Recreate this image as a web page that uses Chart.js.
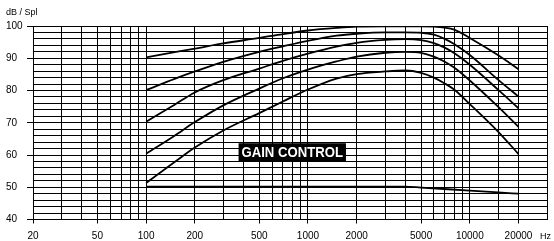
<!DOCTYPE html>
<html>
<head>
<meta charset="utf-8">
<script src="https://cdn.jsdelivr.net/npm/chart.js@4/dist/chart.umd.min.js"></script>
<style>
html,body{margin:0;padding:0;background:#fff;}
#wrap{width:554px;height:241px;}
</style>
</head>
<body>
<div id="wrap"><canvas id="c" width="554" height="241"></canvas></div>
<script>
// ---- data ----
const FREQS = [100,150,200,300,500,700,1000,1500,2000,3000,4000,5000,6000,7000,8000,10000,15000,20000];
const CURVE_1 = [90.3,91.9,93.0,94.6,96.3,97.5,98.6,99.4,99.8,99.9,99.9,99.9,99.8,99.5,98.9,96.3,90.9,86.6];
const CURVE_2 = [80.1,83.6,85.9,88.9,92.0,93.7,95.4,97.0,97.6,98.0,98.0,97.9,97.3,96.0,94.4,91.0,83.3,78.1];
const CURVE_3 = [70.3,75.6,79.4,83.2,86.8,89.2,91.4,93.6,94.8,95.7,95.9,95.6,94.7,93.3,91.6,88.0,80.2,74.5];
const CURVE_4 = [60.4,66.0,70.2,75.4,80.6,83.8,86.5,89.0,90.5,91.7,92.0,91.7,90.5,88.9,87.1,83.1,74.9,68.7];
const CURVE_5 = [51.3,57.8,62.3,67.6,73.0,76.6,80.3,83.7,85.1,85.9,86.2,85.5,84.0,82.2,80.3,75.8,67.2,60.3];
const FLAT_FREQS = [100,1000,3000,4000,5000,10000,15000,20000];
const CURVE_6 = [50.2,50.2,50.2,50.2,49.9,48.95,48.4,48.0];

const X_GRID = [20,30,40,50,60,70,80,90,100,200,300,400,500,600,700,800,900,1000,2000,3000,4000,5000,6000,7000,8000,9000,10000,15000,20000,30000];
const X_LABELS = [20,50,100,200,500,1000,2000,5000,10000,20000];
const X_MIN = 20, X_MAX = 30000;
const Y_MIN = 40, Y_MAX = 100, Y_STEP = 2, Y_LABEL_STEP = 10;

const Y_TITLE = 'dB / Spl';
const X_UNIT = 'Hz';
const GAIN_TEXT = 'GAIN CONTROL';
const GAIN_X = 800, GAIN_Y = 60.8;

// ---- build ----
const FONT = '"Liberation Sans", Arial, Helvetica, sans-serif';
function series(xs, ys){ return xs.map((x,i)=>({x:x, y:ys[i]})); }
const allCurves = [CURVE_1, CURVE_2, CURVE_3, CURVE_4, CURVE_5];
const datasets = allCurves.map(c => ({ data: series(FREQS, c) }));
datasets.push({ data: series(FLAT_FREQS, CURVE_6) });
datasets.forEach(d => {
  d.borderColor = '#000';
  d.borderWidth = 1.8;
  d.pointRadius = 0;
  d.fill = false;
  d.cubicInterpolationMode = 'monotone';
});

const yTicks = [];
for (let v = Y_MIN; v <= Y_MAX; v += Y_STEP) yTicks.push(v);

const textPlugin = {
  id: 'texts',
  afterDatasetsDraw(chart) {
    const ctx = chart.ctx, xs = chart.scales.x, ys = chart.scales.y, ca = chart.chartArea;
    // gain control box
    const px = xs.getPixelForValue(GAIN_X), py = ys.getPixelForValue(GAIN_Y);
    ctx.save();
    ctx.fillStyle = '#000';
    ctx.fillRect(px - 53.7, py - 9.2, 107.4, 18.4);
    ctx.font = 'bold 15px ' + FONT;
    const w = ctx.measureText(GAIN_TEXT).width;
    ctx.translate(px, py + 0.3);
    ctx.scale(101.6 / w, 1);
    ctx.fillStyle = '#fff';
    ctx.textAlign = 'center';
    ctx.textBaseline = 'middle';
    ctx.fillText(GAIN_TEXT, 0, 0);
    ctx.restore();
  },
  afterDraw(chart) {
    const ctx = chart.ctx, ca = chart.chartArea;
    ctx.save();
    ctx.fillStyle = '#000';
    ctx.font = '9px ' + FONT;
    ctx.textBaseline = 'middle';
    ctx.textAlign = 'left';
    ctx.fillText(Y_TITLE, 6, 12.3);
    ctx.fillText(X_UNIT, ca.right - 7, ca.bottom + 16.8);
    ctx.restore();
  }
};

new Chart(document.getElementById('c').getContext('2d'), {
  type: 'line',
  data: { datasets: datasets },
  options: {
    responsive: false,
    animation: false,
    devicePixelRatio: 1,
    layout: { padding: { top: 26, right: 5.2, left: 6, bottom: 0 } },
    plugins: { legend: { display: false }, tooltip: { enabled: false }, title: { display: false } },
    scales: {
      x: {
        type: 'logarithmic',
        min: X_MIN, max: X_MAX,
        afterBuildTicks: s => { s.ticks = X_GRID.map(v => ({ value: v })); },
        afterFit: s => { s.height = 21.5; },
        ticks: {
          autoSkip: false, maxRotation: 0, minRotation: 0, padding: 7,
          color: '#000', font: { family: FONT, size: 10 },
          callback: v => X_LABELS.includes(v) ? String(v) : ''
        },
        grid: {
          color: '#000', lineWidth: 1, tickLength: 4,
          tickColor: c => (c.tick && X_LABELS.includes(c.tick.value)) ? '#000' : 'rgba(0,0,0,0)'
        },
        border: { color: '#000', width: 1 }
      },
      y: {
        type: 'linear',
        min: Y_MIN, max: Y_MAX,
        afterBuildTicks: s => { s.ticks = yTicks.map(v => ({ value: v })); },
        afterFit: s => { s.width = 27; },
        ticks: {
          autoSkip: false, crossAlign: 'far', padding: 4,
          color: '#000', font: { family: FONT, size: 10 },
          callback: v => (v % Y_LABEL_STEP === 0) ? String(v) : ''
        },
        grid: {
          color: '#000', lineWidth: 1, tickLength: 6,
          tickColor: c => (c.tick && c.tick.value % Y_LABEL_STEP === 0) ? '#000' : 'rgba(0,0,0,0)'
        },
        border: { color: '#000', width: 1 }
      }
    }
  },
  plugins: [textPlugin]
});
</script>
</body>
</html>
